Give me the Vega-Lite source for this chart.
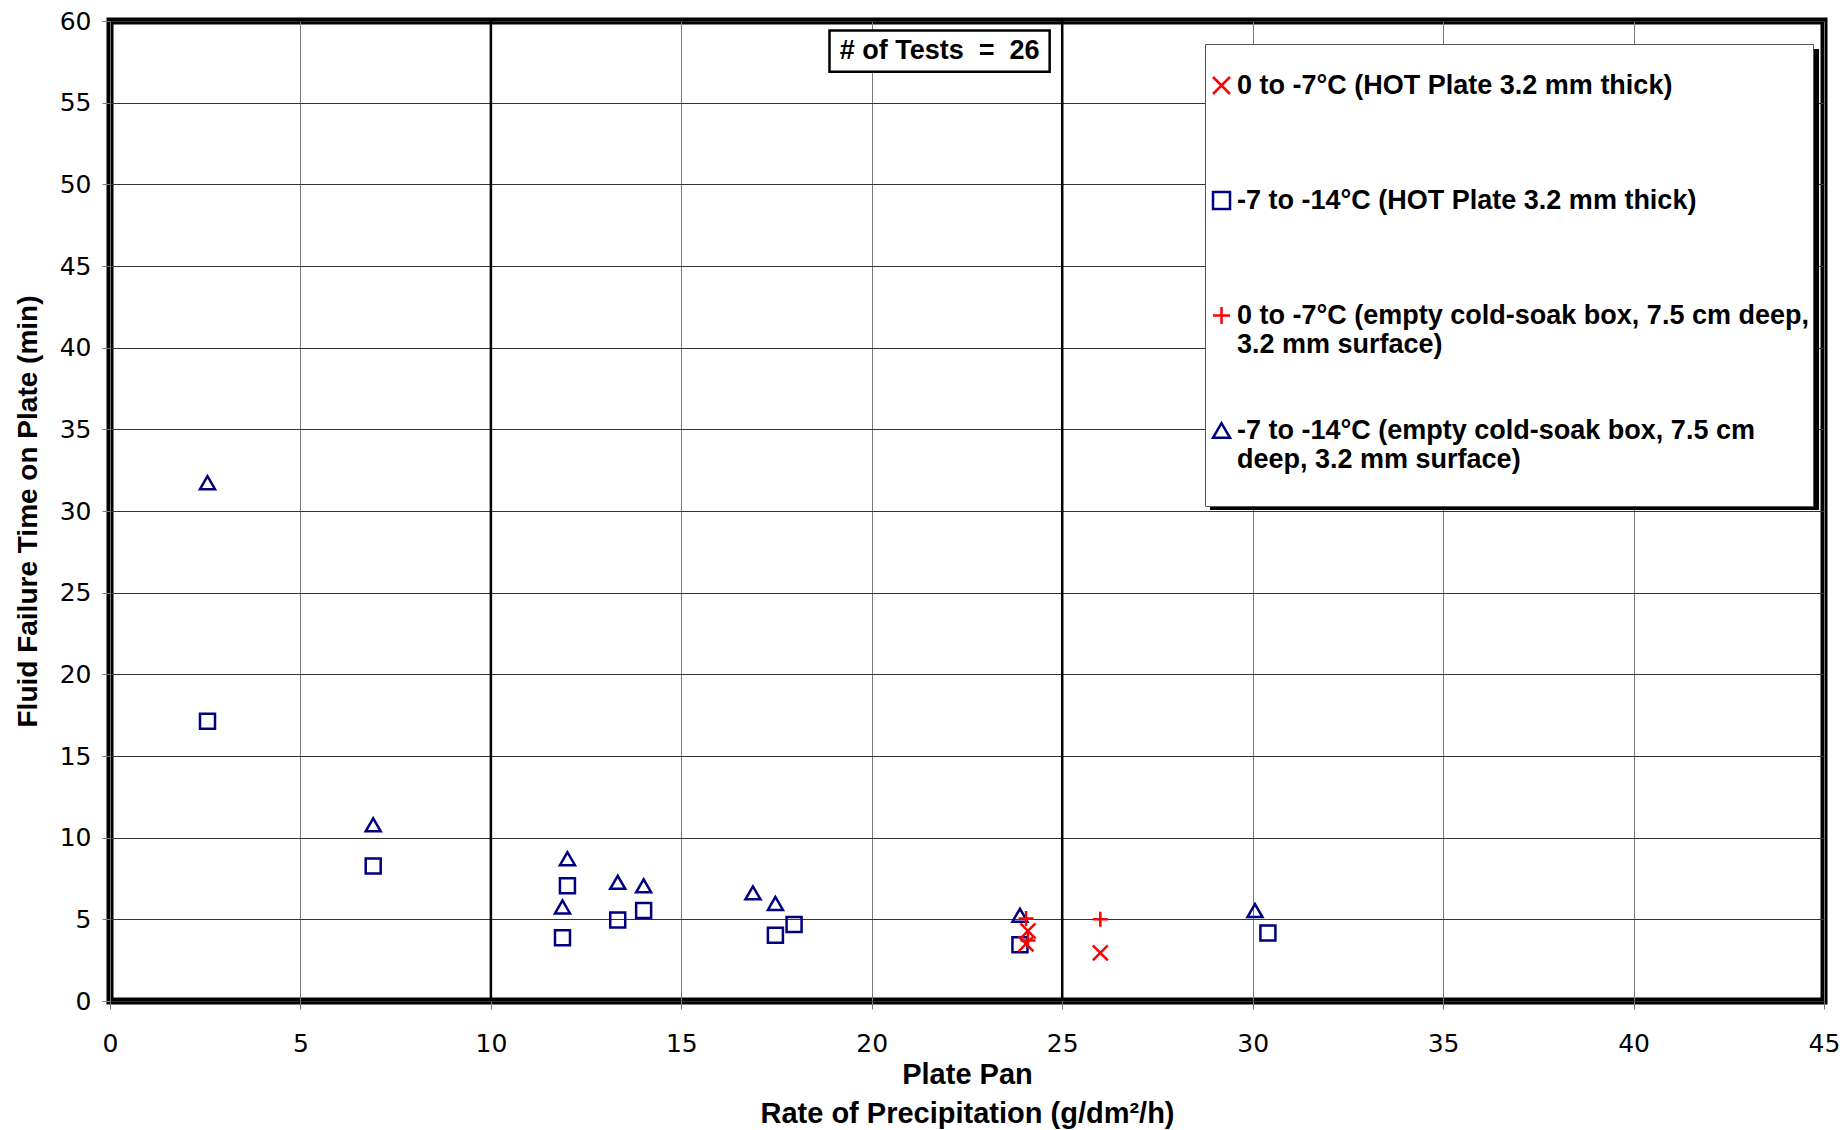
{
  "$schema": "https://vega.github.io/schema/vega-lite/v6.json",
  "width": 1714,
  "height": 980,
  "autosize": "none",
  "padding": {"left": 110, "top": 21, "right": 19, "bottom": 129},
  "background": "white",
  "config": {
    "view": {"stroke": "black", "strokeWidth": 7},
    "font": "Liberation Sans",
    "axis": {
      "domain": false,
      "grid": true,
      "ticks": true,
      "tickSize": 8,
      "labelFont": "DejaVu Sans",
      "labelFontSize": 25,
      "labelColor": "black",
      "labelFlush": false,
      "labelOverlap": false,
      "titleFont": "Liberation Sans",
      "titleFontSize": 28,
      "titleFontWeight": "bold",
      "titleColor": "black"
    },
    "axisX": {"gridColor": "#7a7a7a", "gridWidth": 1, "tickColor": "#7a7a7a", "labelPadding": 22, "titlePadding": 4, "titleLineHeight": 39, "titleFontSize": 29},
    "axisY": {"gridColor": "#333333", "gridWidth": 1, "tickColor": "#7a7a7a", "labelPadding": 11, "titlePadding": 17}
  },
  "datasets": {
    "tests": [
      {"rate": 2.56, "time": 31.73, "series": "-7 to -14°C (empty cold-soak box, 7.5 cm deep, 3.2 mm surface)"},
      {"rate": 6.91, "time": 10.79, "series": "-7 to -14°C (empty cold-soak box, 7.5 cm deep, 3.2 mm surface)"},
      {"rate": 12.01, "time": 8.71, "series": "-7 to -14°C (empty cold-soak box, 7.5 cm deep, 3.2 mm surface)"},
      {"rate": 11.88, "time": 5.76, "series": "-7 to -14°C (empty cold-soak box, 7.5 cm deep, 3.2 mm surface)"},
      {"rate": 13.33, "time": 7.27, "series": "-7 to -14°C (empty cold-soak box, 7.5 cm deep, 3.2 mm surface)"},
      {"rate": 14.01, "time": 7.05, "series": "-7 to -14°C (empty cold-soak box, 7.5 cm deep, 3.2 mm surface)"},
      {"rate": 16.88, "time": 6.62, "series": "-7 to -14°C (empty cold-soak box, 7.5 cm deep, 3.2 mm surface)"},
      {"rate": 17.47, "time": 5.97, "series": "-7 to -14°C (empty cold-soak box, 7.5 cm deep, 3.2 mm surface)"},
      {"rate": 23.89, "time": 5.25, "series": "-7 to -14°C (empty cold-soak box, 7.5 cm deep, 3.2 mm surface)"},
      {"rate": 30.06, "time": 5.54, "series": "-7 to -14°C (empty cold-soak box, 7.5 cm deep, 3.2 mm surface)"},
      {"rate": 2.56, "time": 17.12, "series": "-7 to -14°C (HOT Plate 3.2 mm thick)"},
      {"rate": 6.91, "time": 8.27, "series": "-7 to -14°C (HOT Plate 3.2 mm thick)"},
      {"rate": 12.01, "time": 7.05, "series": "-7 to -14°C (HOT Plate 3.2 mm thick)"},
      {"rate": 11.88, "time": 3.88, "series": "-7 to -14°C (HOT Plate 3.2 mm thick)"},
      {"rate": 13.33, "time": 4.96, "series": "-7 to -14°C (HOT Plate 3.2 mm thick)"},
      {"rate": 14.01, "time": 5.54, "series": "-7 to -14°C (HOT Plate 3.2 mm thick)"},
      {"rate": 17.47, "time": 4.03, "series": "-7 to -14°C (HOT Plate 3.2 mm thick)"},
      {"rate": 17.96, "time": 4.68, "series": "-7 to -14°C (HOT Plate 3.2 mm thick)"},
      {"rate": 23.89, "time": 3.45, "series": "-7 to -14°C (HOT Plate 3.2 mm thick)"},
      {"rate": 30.4, "time": 4.17, "series": "-7 to -14°C (HOT Plate 3.2 mm thick)"},
      {"rate": 24.05, "time": 3.5, "series": "0 to -7°C (HOT Plate 3.2 mm thick)"},
      {"rate": 24.1, "time": 4.3, "series": "0 to -7°C (HOT Plate 3.2 mm thick)"},
      {"rate": 26.0, "time": 2.95, "series": "0 to -7°C (HOT Plate 3.2 mm thick)"},
      {"rate": 24.05, "time": 5.05, "series": "0 to -7°C (empty cold-soak box, 7.5 cm deep, 3.2 mm surface)"},
      {"rate": 24.1, "time": 3.7, "series": "0 to -7°C (empty cold-soak box, 7.5 cm deep, 3.2 mm surface)"},
      {"rate": 26.0, "time": 5.0, "series": "0 to -7°C (empty cold-soak box, 7.5 cm deep, 3.2 mm surface)"}
    ],
    "refs": [{"rate": 10}, {"rate": 25}],
    "note": [{"text": "# of Tests \u00a0=\u00a0 26"}]
  },
  "layer": [
    {
      "data": {"name": "refs"},
      "mark": {"type": "rule", "color": "black", "strokeWidth": 2.5},
      "encoding": {
        "x": {"field": "rate", "type": "quantitative", "title": ["Plate Pan", "Rate of Precipitation (g/dm²/h)"], "scale": {"domain": [0, 45], "nice": false}, "axis": {"values": [0, 5, 10, 15, 20, 25, 30, 35, 40, 45]}}
      }
    },
    {
      "data": {"name": "note"},
      "mark": {"type": "rect", "fill": "black", "stroke": null},
      "encoding": {
        "x": {"datum": 28.88, "type": "quantitative", "title": ["Plate Pan", "Rate of Precipitation (g/dm²/h)"]},
        "x2": {"datum": 44.87},
        "y": {"datum": 58.29, "type": "quantitative", "title": "Fluid Failure Time on Plate (min)"},
        "y2": {"datum": 30.06}
      }
    },
    {
      "data": {"name": "note"},
      "mark": {"type": "rect", "fill": "white", "stroke": "black", "strokeWidth": 2.5},
      "encoding": {
        "x": {"datum": 18.89, "type": "quantitative", "title": ["Plate Pan", "Rate of Precipitation (g/dm²/h)"]},
        "x2": {"datum": 24.67},
        "y": {"datum": 59.42, "type": "quantitative", "title": "Fluid Failure Time on Plate (min)"},
        "y2": {"datum": 56.9}
      }
    },
    {
      "data": {"name": "note"},
      "mark": {"type": "text", "font": "Liberation Sans", "fontSize": 27, "fontWeight": "bold", "color": "black", "align": "center", "baseline": "middle"},
      "encoding": {
        "x": {"datum": 21.78, "type": "quantitative", "title": ["Plate Pan", "Rate of Precipitation (g/dm²/h)"]},
        "y": {"datum": 58.16, "type": "quantitative", "title": "Fluid Failure Time on Plate (min)"},
        "text": {"field": "text"}
      }
    },
    {
      "data": {"name": "tests"},
      "mark": {"type": "point", "filled": false, "size": 225, "strokeWidth": 2.5, "opacity": 1},
      "encoding": {
        "x": {"field": "rate", "type": "quantitative", "title": ["Plate Pan", "Rate of Precipitation (g/dm²/h)"], "scale": {"domain": [0, 45], "nice": false}},
        "y": {"field": "time", "type": "quantitative", "title": "Fluid Failure Time on Plate (min)", "scale": {"domain": [0, 60], "nice": false}, "axis": {"values": [0, 5, 10, 15, 20, 25, 30, 35, 40, 45, 50, 55, 60]}},
        "color": {
          "field": "series", "type": "nominal",
          "scale": {
            "domain": ["0 to -7°C (HOT Plate 3.2 mm thick)", "-7 to -14°C (HOT Plate 3.2 mm thick)", "0 to -7°C (empty cold-soak box, 7.5 cm deep, 3.2 mm surface)", "-7 to -14°C (empty cold-soak box, 7.5 cm deep, 3.2 mm surface)"],
            "range": ["#ff0000", "#000080", "#ff0000", "#000080"]
          },
          "legend": {
            "orient": "none", "legendX": 1095, "legendY": 23,
            "title": " ", "titleFontSize": 10, "titlePadding": 14,
            "padding": 4, "fillColor": "white", "strokeColor": "#555555",
            "labelFont": "Liberation Sans", "labelFontSize": 27, "labelFontWeight": "bold", "labelColor": "black",
            "labelLimit": 900, "labelOffset": 2, "symbolOffset": -1, "labelBaseline": "middle",
            "symbolSize": 289, "symbolStrokeWidth": 2.5,
            "rowPadding": 29, "gridAlign": "all",
            "labelExpr": "datum.label == '0 to -7°C (empty cold-soak box, 7.5 cm deep, 3.2 mm surface)' ? ['0 to -7°C (empty cold-soak box, 7.5 cm deep,', '3.2 mm surface)'] : datum.label == '-7 to -14°C (empty cold-soak box, 7.5 cm deep, 3.2 mm surface)' ? ['-7 to -14°C (empty cold-soak box, 7.5 cm', 'deep, 3.2 mm surface)', ''] : datum.label"
          }
        },
        "shape": {
          "field": "series", "type": "nominal",
          "scale": {
            "domain": ["0 to -7°C (HOT Plate 3.2 mm thick)", "-7 to -14°C (HOT Plate 3.2 mm thick)", "0 to -7°C (empty cold-soak box, 7.5 cm deep, 3.2 mm surface)", "-7 to -14°C (empty cold-soak box, 7.5 cm deep, 3.2 mm surface)"],
            "range": ["M-1,-1L1,1M-1,1L1,-1", "square", "M-1,0L1,0M0,-1L0,1", "triangle-up"]
          }
        }
      }
    }
  ]
}
